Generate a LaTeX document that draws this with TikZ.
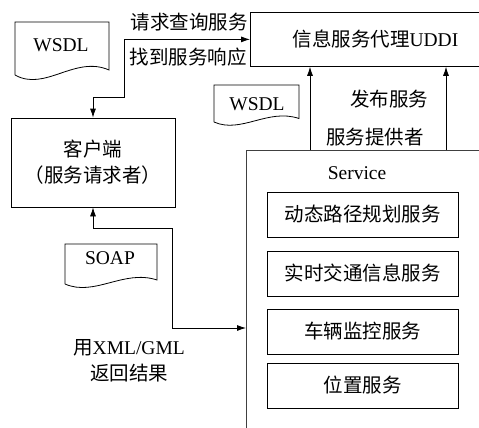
\documentclass[tikz,border=0pt]{standalone}
\usepackage{fontspec}
\setmainfont{Liberation Serif}
\newfontfamily\cjk{Noto Sans CJK SC}
\usetikzlibrary{arrows.meta}
\begin{document}
\begin{tikzpicture}[x=1pt,y=-1pt,
  every node/.style={font=\fontsize{19.5}{26}\selectfont, inner sep=0pt},
  box/.style={draw, line width=0.8pt, rectangle},
  doc/.style={draw, line width=0.8pt},
  lbl/.style={align=center},
  conn/.style={line width=0.8pt, -{Latex[length=9pt,width=6pt]}},
  dconn/.style={line width=0.8pt, {Latex[length=9pt,width=6pt]}-{Latex[length=9pt,width=6pt]}}]
\useasboundingbox (0,0) rectangle (479,428);
\clip (0,0) rectangle (479,428);

% main boxes
\node[box, anchor=north west, minimum width=250pt, minimum height=54pt] (uddi) at (250,12)
  {\hspace*{0pt}{\cjk 信息服务代理}UDDI};
\node[box, minimum width=164pt, minimum height=89pt, align=center] (client) at (93,162.5)
  {{\cjk 客户端}\\{\cjk （服务请求者）}};
\node[box, draw=black!75, anchor=north west, minimum width=260pt, minimum height=300pt] (service) at (246,150) {};
\node (servicelbl) at (357,173) {Service};

\node[box, minimum width=191pt, minimum height=45pt] (s1) at (362.5,214.5) {\cjk 动态路径规划服务};
\node[box, minimum width=191pt, minimum height=45pt] (s2) at (362.5,273.5) {\cjk 实时交通信息服务};
\node[box, minimum width=191pt, minimum height=45pt] (s3) at (362.5,331.5) {\cjk 车辆监控服务};
\node[box, minimum width=191pt, minimum height=45pt] (s4) at (362.5,385.5) {\cjk 位置服务};

% documents
\draw[doc] (15,75) -- (15,22) -- (109,22) -- (109,70) .. controls (75,55) and (45,92) .. (15,75);
\node (wsdl1) at (61,45) {WSDL};
\draw[doc] (214,122) -- (214,85) -- (299,85) -- (299,118.5) .. controls (268,108) and (241,134) .. (214,122);
\node (wsdl2) at (257,104) {WSDL};
\draw[doc] (65,284) -- (65,244) -- (157,244) -- (157,280) .. controls (124,269) and (94.5,297) .. (65,284);
\node (soap) at (110,258) {SOAP};

% connectors
\draw[dconn] (client.north) |- (124,97) |- (uddi.west);
\draw[dconn] (client.south) |- (172,228) |- (service.west |- 0,328);
\draw[conn] (service.north -| 310,0) -- (uddi.south -| 310,0);
\draw[conn] (service.north -| 446,0) -- (uddi.south -| 446,0);

% labels
\node (req) at (189,22.5) {\cjk 请求查询服务};
\node (resp) at (188,57.5) {\cjk 找到服务响应};
\node (pub) at (389,99) {\cjk 发布服务};
\node (prov) at (375,137.5) {\cjk 服务提供者};
\node[lbl] (ret) at (129,361) {{\cjk 用}XML/GML\\{\cjk 返回结果}};
\end{tikzpicture}
\end{document}
